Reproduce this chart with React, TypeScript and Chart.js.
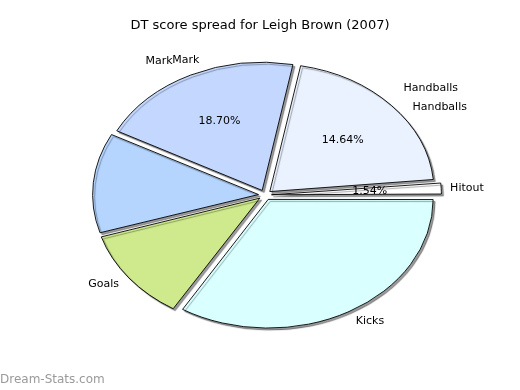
import React, { useEffect, useRef } from "react";
import { Chart, registerables } from "chart.js";

Chart.register(...registerables);

const TITLE = "DT score spread for Leigh Brown (2007)";
const WATERMARK = "Dream-Stats.com";

// Slices listed clockwise starting at 3 o'clock
const categories = ["Kicks", "Goals", "", "Mark", "Handballs", "Hitout"];
const shares = [33.7, 11.5, 12.5, 20.3, 20.5, 1.5];
const pctLabels = ["", "", "", "18.70%", "14.64%", "1.54%"];
const ghostLabels = ["", "", "", "Mark", "Handballs", ""];
const colors = ["#D9FFFF", "#CFEA8C", "#B5D5FF", "#C4D8FF", "#EAF2FF", "#FFFFFF"];

const Y_SQUASH = 0.78;
const FONT = "'DejaVu Sans', sans-serif";
const DEG = Math.PI / 180;

const piePlugin = {
  id: "ellipsePie",
  beforeDatasetsDraw(chart: any) {
    const ctx = chart.ctx;
    const arc = chart.getDatasetMeta(0).data[0];
    if (!arc) return;
    ctx.save();
    ctx.translate(arc.x, arc.y);
    ctx.scale(1, Y_SQUASH);
    ctx.translate(-arc.x, -arc.y);
    ctx.shadowColor = "rgba(0,0,0,0.4)";
    ctx.shadowOffsetX = 2;
    ctx.shadowOffsetY = 2;
    ctx.shadowBlur = 1;
  },
  afterDatasetsDraw(chart: any) {
    const ctx = chart.ctx;
    ctx.restore();
    const arcs = chart.getDatasetMeta(0).data;
    ctx.save();
    ctx.fillStyle = "#000";
    ctx.textBaseline = "middle";
    ctx.font = `11px ${FONT}`;
    arcs.forEach((a: any, i: number) => {
      const p = a.getProps(["x", "y", "startAngle", "endAngle", "outerRadius"], true);
      const mid = (p.startAngle + p.endAngle) / 2;
      const place = (ang: number, f: number) => ({
        x: p.x + Math.cos(ang) * p.outerRadius * f,
        y: p.y + Math.sin(ang) * p.outerRadius * f * Y_SQUASH,
      });
      const hasGhost = !!ghostLabels[i];
      if (categories[i]) {
        const ang = hasGhost ? mid + 5 * DEG : mid;
        const q = place(ang, hasGhost ? 1.13 : 1.13);
        ctx.textAlign = Math.cos(ang) >= 0 ? "left" : "right";
        ctx.fillText(categories[i], q.x, q.y);
      }
      if (hasGhost) {
        const g = mid - 2.5 * DEG;
        const q = place(g, 1.19);
        ctx.textAlign = Math.cos(g) >= 0 ? "left" : "right";
        ctx.fillText(ghostLabels[i], q.x, q.y);
      }
      if (pctLabels[i]) {
        const q = place(mid, 0.64);
        ctx.textAlign = "center";
        ctx.fillText(pctLabels[i], q.x, q.y);
      }
    });
    ctx.restore();
  },
  afterDraw(chart: any) {
    const ctx = chart.ctx;
    ctx.save();
    ctx.fillStyle = "#000";
    ctx.font = `13px ${FONT}`;
    ctx.textAlign = "center";
    ctx.textBaseline = "middle";
    ctx.fillText(TITLE, 260, 26);
    ctx.fillStyle = "#9a9a9a";
    ctx.font = `12px ${FONT}`;
    ctx.textAlign = "left";
    ctx.fillText(WATERMARK, 0, 380);
    ctx.restore();
  },
};

export default function App() {
  const ref = useRef<HTMLCanvasElement | null>(null);
  useEffect(() => {
    document.body.style.margin = "0";
    const canvas = ref.current;
    if (!canvas) return;
    const chart = new Chart(canvas, {
      type: "pie",
      data: {
        labels: categories,
        datasets: [
          {
            data: shares,
            backgroundColor: colors,
            borderColor: "#000",
            borderWidth: 1,
            offset: 26,
            clip: false as any,
          } as any,
        ],
      },
      options: {
        responsive: false,
        maintainAspectRatio: false,
        animation: false,
        devicePixelRatio: 1,
        rotation: 90,
        radius: 164,
        layout: { padding: { left: 10, right: 0, top: 0, bottom: 0 } },
        plugins: {
          legend: { display: false },
          title: { display: false },
          tooltip: { enabled: false },
        },
      } as any,
      plugins: [piePlugin],
    });
    return () => chart.destroy();
  }, []);
  return (
    <div style={{ width: 520, height: 390, background: "#fff" }}>
      <canvas ref={ref} width={520} height={390} />
    </div>
  );
}
